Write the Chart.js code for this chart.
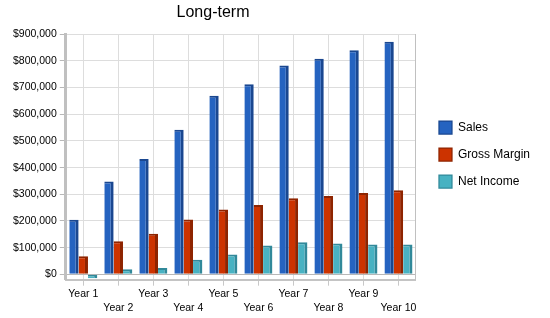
<!DOCTYPE html>
<html>
<head>
<meta charset="utf-8">
<script src="https://cdn.jsdelivr.net/npm/chart.js@4.4.1/dist/chart.umd.min.js"></script>
<style>
  body { margin: 0; background: #fff; }
</style>
</head>
<body>
<canvas id="myChart" width="550" height="318"></canvas>
<script>
var years = ['Year 1', 'Year 2', 'Year 3', 'Year 4', 'Year 5', 'Year 6', 'Year 7', 'Year 8', 'Year 9', 'Year 10'];

var sales = [205000, 348000, 432000, 542000, 669000, 712000, 783000, 808000, 840000, 872000];
var grossMargin = [68000, 124000, 152000, 206000, 243000, 260000, 285000, 294000, 305000, 315000];
var netIncome = [-15000, 19000, 24000, 55000, 74000, 108000, 120000, 116000, 112000, 112000];

var yTickValues = [0, 100000, 200000, 300000, 400000, 500000, 600000, 700000, 800000, 900000];

var chartTitle = 'Long-term';

var font = 'Arial, "Liberation Sans", sans-serif';

// title sits left of centre in the original, so draw it ourselves
var titlePlugin = {
    id: 'titleText',
    afterDraw: function(chart) {
        var c = chart.ctx;
        c.save();
        c.font = '16px ' + font;
        c.fillStyle = '#000';
        c.textAlign = 'center';
        c.textBaseline = 'middle';
        c.fillText(chartTitle, 213, 13);
        c.restore();
    }
};

var ctx = document.getElementById('myChart').getContext('2d');

var bar3d = {top: 2, right: 3, bottom: 0, left: 0};

new Chart(ctx, {
    type: 'bar',
    data: {
        labels: years,
        datasets: [{
            label: 'Sales',
            data: sales,
            backgroundColor: '#2563C0',
            borderColor: '#1A4790',
            borderWidth: bar3d,
            borderSkipped: false
        }, {
            label: 'Gross Margin',
            data: grossMargin,
            backgroundColor: '#CC3300',
            borderColor: '#8E2400',
            borderWidth: bar3d,
            borderSkipped: false
        }, {
            label: 'Net Income',
            data: netIncome,
            backgroundColor: '#48B2C2',
            borderColor: '#31899A',
            borderWidth: bar3d,
            borderSkipped: false
        }]
    },
    options: {
        responsive: false,
        animation: false,
        layout: {
            padding: {top: -8, left: 10, right: 10, bottom: 1}
        },
        datasets: {
            bar: {categoryPercentage: 0.8, barPercentage: 1.0}
        },
        plugins: {
            // blank title only reserves the space above the plot
            title: {
                display: true,
                text: ' ',
                fullSize: false,
                font: {family: font, size: 16},
                padding: {top: 11, bottom: 12}
            },
            tooltip: {enabled: false},
            legend: {
                position: 'right',
                maxWidth: 150,
                labels: {
                    boxWidth: 13,
                    boxHeight: 13,
                    padding: 14,
                    color: '#000',
                    font: {family: font, size: 12}
                }
            }
        },
        scales: {
            x: {
                grid: {
                    offset: false,
                    color: '#dddddd',
                    tickLength: 6,
                    tickColor: '#c8c8c8'
                },
                border: {color: '#c4c4c4', width: 2},
                ticks: {
                    autoSkip: false,
                    maxRotation: 0,
                    padding: 2,
                    color: '#000',
                    font: {family: font, size: 10.5, lineHeight: 1.3},
                    callback: function(v, i) {
                        var lab = this.getLabelForValue(v);
                        return i % 2 == 0 ? [lab, ''] : ['', lab];
                    }
                }
            },
            y: {
                min: -20000,
                max: 900000,
                afterBuildTicks: function(axis) {
                    axis.ticks = yTickValues.map(function(v) { return {value: v}; });
                },
                grid: {
                    color: function(c) {
                        return c.tick && c.tick.value == 0 ? '#b8b8b8' : '#dddddd';
                    },
                    tickLength: 6,
                    tickColor: '#b8b8b8'
                },
                border: {color: '#c0c0c0', width: 3},
                ticks: {
                    padding: 3,
                    color: '#000',
                    font: {family: font, size: 10.5},
                    callback: function(v) {
                        return '$' + v.toLocaleString('en-US');
                    }
                }
            },
            // empty scale only used as the plot's right edge
            yRight: {
                position: 'right',
                display: true,
                grid: {drawOnChartArea: false, drawTicks: false},
                ticks: {display: false},
                border: {color: '#c0c0c0', width: 1},
                afterFit: function(s) { s.width = 9; }
            }
        }
    },
    plugins: [titlePlugin]
});
</script>
</body>
</html>
